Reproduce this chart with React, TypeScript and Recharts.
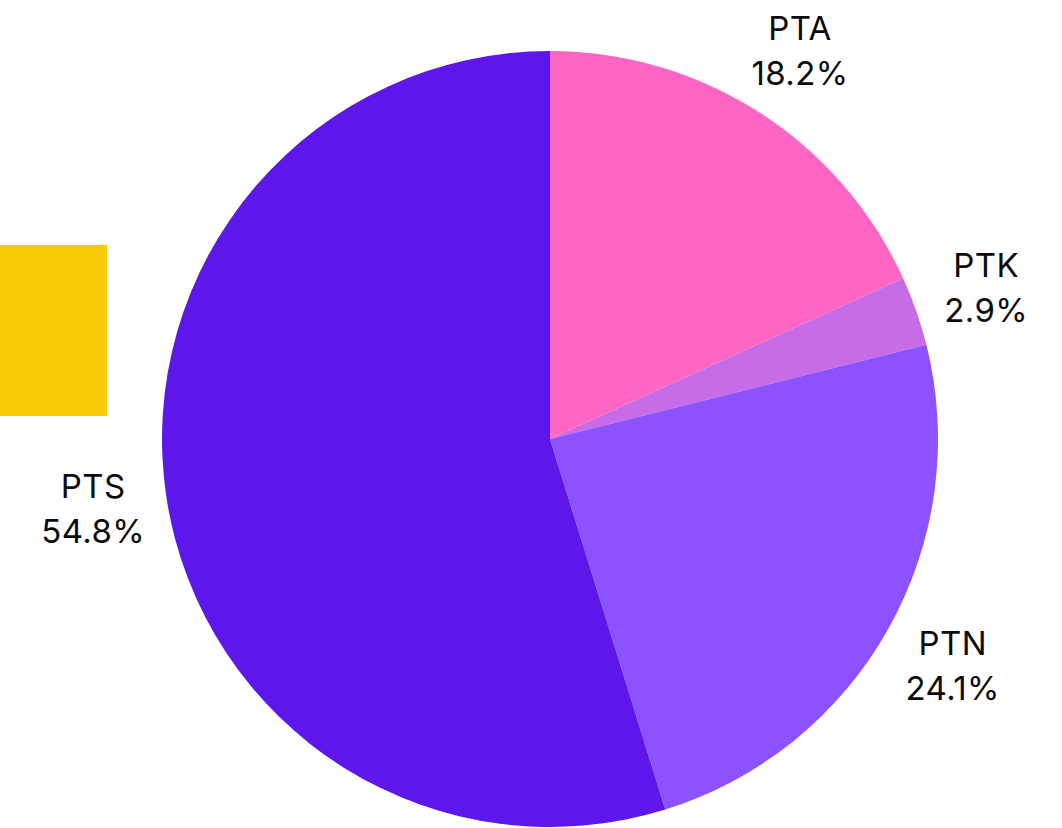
import React from "react";
import { PieChart, Pie, Cell } from "recharts";

const names = ["PTA", "PTK", "PTN", "PTS"];
const values = [18.2, 2.9, 24.1, 54.8];
const colors = ["#FF66C4", "#C86BE6", "#8C52FF", "#5E17EB"];

const data = names.map((name, i) => ({ name, value: values[i] }));

const RAD = Math.PI / 180;

const renderLabel = (props: any) => {
  const { cx, cy, midAngle, outerRadius, index } = props;
  const r = outerRadius + 74;
  const x = cx + r * Math.cos(-midAngle * RAD);
  const y = cy + r * Math.sin(-midAngle * RAD);
  return (
    <text
      x={x}
      y={y}
      textAnchor="middle"
      fill="#0a0a0a"
      fontFamily="Inter, 'Noto Sans', sans-serif"
      fontSize={33}
      letterSpacing={0.4}
    >
      <tspan x={x} y={y - 10}>{names[index]}</tspan>
      <tspan x={x} y={y + 35}>{values[index].toFixed(1)}%</tspan>
    </text>
  );
};

export default function App() {
  return (
    <div style={{ position: "absolute", left: 0, top: 0, width: 1062, height: 828, background: "#fff", overflow: "hidden" }}>
      <div style={{ position: "absolute", left: 0, top: 245, width: 107, height: 171, background: "#F7CB05" }} />
      <div style={{ position: "absolute", left: 0, top: 0 }}>
        <PieChart width={1062} height={828} margin={{ top: 0, right: 0, bottom: 0, left: 0 }}>
          <Pie
            data={data}
            dataKey="value"
            nameKey="name"
            cx={550}
            cy={439}
            outerRadius={388}
            innerRadius={0}
            startAngle={90}
            endAngle={-270}
            stroke="none"
            label={renderLabel}
            labelLine={false}
            isAnimationActive={false}
          >
            {data.map((d, i) => (
              <Cell key={d.name} fill={colors[i]} />
            ))}
          </Pie>
        </PieChart>
      </div>
    </div>
  );
}
